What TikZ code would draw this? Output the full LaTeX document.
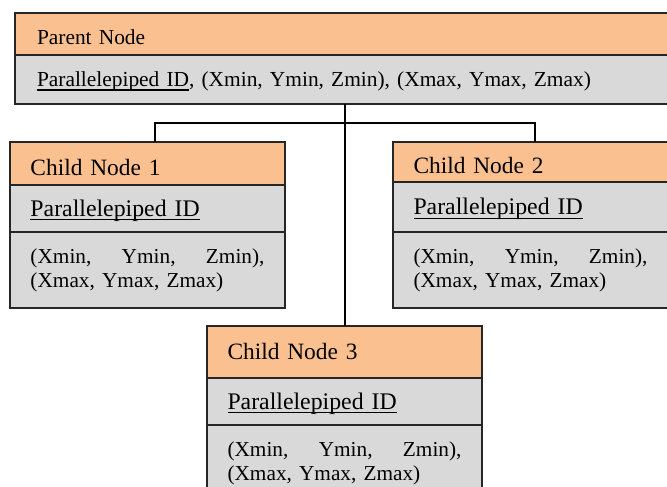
\documentclass[tikz,border=0pt]{standalone}
\usepackage{fontspec}
\setmainfont{Liberation Serif}
\usepackage{tikz}
\usetikzlibrary{positioning}
\definecolor{headorange}{RGB}{250,192,143}
\definecolor{bodygray}{RGB}{217,217,217}
\newcommand{\idline}[1]{\setbox0\hbox{#1}\rlap{\rule[-4pt]{\wd0}{1.3pt}}#1}
\tikzset{
	band/.style={draw=black!85, line width=1.2pt, outer sep=0pt, inner xsep=20.5pt, inner ysep=0pt, text width=234pt, align=left, minimum height=#1},
	headband/.style={band=#1, fill=headorange, font=\fontsize{23.4}{27}\selectfont, text height=23.4pt, text depth=0pt},
	idband/.style={band=#1, fill=bodygray, font=\fontsize{23.8}{27}\selectfont, text height=15.7pt, text depth=0pt},
	xyzband/.style={band=#1, fill=bodygray, font=\fontsize{21.3}{24}\selectfont},
	parentband/.style={text width=611pt, inner xsep=22pt, font=\fontsize{21.4}{25}\selectfont},
	link/.style={draw=black, line width=1.8pt}
}

\begin{document}
\begin{tikzpicture}[x=1pt, y=-1pt]
		%%%%% START %%%%%
		\useasboundingbox (0,0) rectangle (667,487);
		
		% parent
		\node[headband=42pt, parentband, text height=21.4pt, anchor=north west] (parenthead) at (15,13) {Parent Node};
		\node[idband=49pt, parentband, text height=14.1pt, below=0pt of parenthead] (parentid) {\idline{Parallelepiped ID}, (Xmin, Ymin, Zmin), (Xmax, Ymax, Zmax)};
		
		% child 1
		\node[headband=43pt, anchor=north west] (childAhead) at (10,142) {Child Node 1};
		\node[idband=47pt, below=0pt of childAhead] (childAid) {\idline{Parallelepiped ID}};
		\node[xyzband=76pt, below=0pt of childAid] (childAxyz) {(Xmin,\hfill Ymin,\hfill Zmin),\\(Xmax, Ymax, Zmax)};
		
		% child 2
		\node[headband=40pt, anchor=north west] (childBhead) at (393,142) {Child Node 2};
		\node[idband=50pt, below=0pt of childBhead] (childBid) {\idline{Parallelepiped ID}};
		\node[xyzband=76pt, below=0pt of childBid] (childBxyz) {(Xmin,\hfill Ymin,\hfill Zmin),\\(Xmax, Ymax, Zmax)};
		
		% child 3
		\node[headband=52pt, text height=14pt, anchor=north west] (childChead) at (207,326) {Child Node 3};
		\node[idband=47pt, below=0pt of childChead] (childCid) {\idline{Parallelepiped ID}};
		\node[xyzband=76pt, below=0pt of childCid] (childCxyz) {(Xmin,\hfill Ymin,\hfill Zmin),\\(Xmax, Ymax, Zmax)};
		
		% links
		\coordinate (junction) at (345,123);
		\draw[link] (junction |- parentid.south) -- (junction |- childChead.north);
		\draw[link] (155,0 |- childAhead.north) |- (junction) -| (535,0 |- childBhead.north);
		
		%%%%% END %%%%%
	\end{tikzpicture}
\end{document}
